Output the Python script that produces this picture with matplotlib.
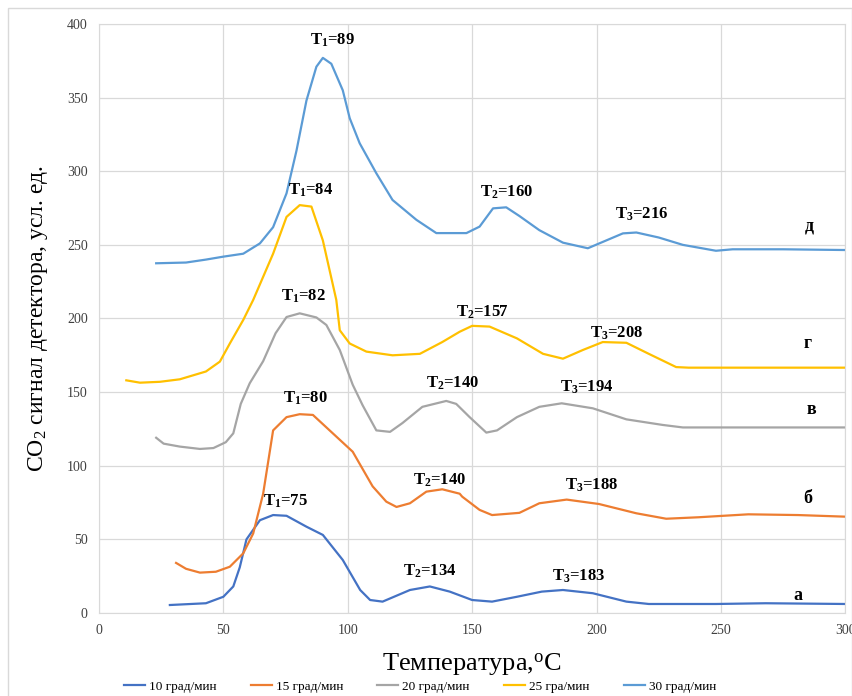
import matplotlib
matplotlib.use("Agg")
import matplotlib.pyplot as plt
from matplotlib.patches import Rectangle

plt.rcParams['font.family'] = ['Liberation Serif', 'DejaVu Serif']
plt.rcParams['mathtext.fontset'] = 'custom'
plt.rcParams['mathtext.rm'] = 'Liberation Serif'
plt.rcParams['mathtext.bf'] = 'Liberation Serif:bold'
plt.rcParams['mathtext.it'] = 'Liberation Serif:italic'

# --- данные ---
x10 = [28.5, 43, 50, 54, 56.6, 59.3, 64.7, 70, 75.4, 83.4, 90, 98, 105, 109, 114, 125, 133, 141,
       150, 158, 168, 178, 186.5, 198.5, 212, 221, 248, 268, 300]
y10 = [5.4, 6.6, 11, 18, 31, 50, 63, 66.5, 66, 58.6, 53, 36, 15.6, 8.8, 7.7, 15.6, 18, 14.5,
       8.8, 7.7, 11, 14.5, 15.6, 13.4, 7.7, 6.1, 6.1, 6.6, 6.1]

x15 = [31, 35, 40.6, 47, 52.6, 58, 62, 66, 70, 75.4, 80.7, 86, 94, 102, 110, 115.5, 119.6, 125,
       131.6, 138, 145, 146, 153, 158, 169, 177, 188, 201, 216, 228, 241, 261, 281, 300]
y15 = [34, 30, 27.4, 28, 31.4, 40.5, 54, 81, 124, 133, 135, 134.5, 122, 109.5, 86, 75.6, 72, 74.5,
       82.4, 84, 81, 79, 70, 66.5, 68, 74.5, 77, 74, 67.7, 64, 65, 67, 66.5, 65.4]

x20 = [23, 26, 32.5, 40.6, 46, 51, 54, 57, 60.6, 66, 71, 75.4, 80.7, 87.4, 91.4, 96.8, 102, 106,
       111.5, 117, 122, 130, 139.6, 143.6, 149, 155.7, 160, 168, 177, 186, 198.5, 212, 226.6,
       234.7, 261, 300]
y20 = [119, 115, 113, 111.4, 112, 116, 122, 142, 156, 171, 190, 201, 203.5, 200.7, 195.6, 178.6,
       155, 141, 124, 123, 129, 140, 144, 142, 133, 122.5, 124, 133, 140, 142.4, 139, 131.5, 127.7,
       126, 126, 126]

x25 = [11, 16.5, 24.5, 32.5, 43, 48.6, 52.6, 58, 62, 70, 75.4, 80.7, 85.4, 90, 95.4, 96.8, 100.8,
       107.5, 118, 129, 138, 145, 150, 157, 168, 178.5, 186.5, 194.5, 202.5, 212, 221, 232, 237, 300]
y25 = [158, 156.4, 157, 158.7, 164, 170.7, 183, 199, 212.6, 244, 269, 277, 276, 253, 212.6, 192, 183,
       177.5, 175, 176, 184, 191, 195, 194.5, 186.5, 176, 172.7, 178.6, 184, 183.5, 176, 167, 166.6,
       166.6]

x30 = [23, 35, 43, 50, 58, 64.7, 70, 75.4, 79.4, 83.4, 87.4, 90, 93.4, 98, 100.8, 104.8, 111.5,
       118, 127.6, 135.6, 147.7, 153, 158.4, 163.7, 169, 177, 186.5, 196.5, 202.5, 210.6, 216, 225,
       234.7, 248, 254.7, 275, 300]
y30 = [237.5, 238, 240, 242, 244, 251, 262, 285, 314, 348, 371, 377, 373, 355, 336, 319, 298.6,
       280.5, 267, 258, 258, 262.4, 274.8, 275.5, 269.6, 260, 251.5, 247.7, 252, 257.8, 258.4, 255,
       250, 246, 247, 247, 246.5]

series_labels = ['10 град/мин', '15 град/мин', '20 град/мин', '25 гра/мин', '30 град/мин']
colors = ['#4472C4', '#ED7D31', '#A5A5A5', '#FFC000', '#5B9BD5']

# подписи пиков: (текст, x, y)
peak_labels = [
    (r'T$_{\mathbf{1}}$=75', 75, 76), (r'T$_{\mathbf{2}}$=134', 133, 28), (r'T$_{\mathbf{3}}$=183', 193, 25),
    (r'T$_{\mathbf{1}}$=80', 83, 146), (r'T$_{\mathbf{2}}$=140', 137, 90), (r'T$_{\mathbf{3}}$=188', 198, 87),
    (r'T$_{\mathbf{1}}$=82', 82, 215), (r'T$_{\mathbf{2}}$=140', 142, 156), (r'T$_{\mathbf{3}}$=194', 196, 153),
    (r'T$_{\mathbf{1}}$=84', 85, 287), (r'T$_{\mathbf{2}}$=157', 154, 204), (r'T$_{\mathbf{3}}$=208', 208, 190),
    (r'T$_{\mathbf{1}}$=89', 94, 389), (r'T$_{\mathbf{2}}$=160', 164, 286), (r'T$_{\mathbf{3}}$=216', 218, 271),
]
curve_letters = [('а', 281, 12), ('б', 285, 78), ('в', 286.5, 138), ('г', 285, 183), ('д', 285.5, 263)]


def main():
    fig = plt.figure(figsize=(8.53, 6.96), dpi=100)
    ax = fig.add_axes([0.116, 0.1193, 0.875, 0.8462])

    data = [(x10, y10), (x15, y15), (x20, y20), (x25, y25), (x30, y30)]
    for (xs, ys), lab, c in zip(data, series_labels, colors):
        ax.plot(xs, ys, color=c, linewidth=1.6, label=lab)

    for txt, x, y in peak_labels:
        ax.text(x, y, txt, fontsize=12, fontweight='bold', ha='center', va='center')
    for txt, x, y in curve_letters:
        ax.text(x, y, txt, fontsize=13, fontweight='bold', ha='center', va='center')

    ax.set_xlim(0, 300)
    ax.set_ylim(0, 400)
    ax.set_xticks(range(0, 301, 50))
    ax.set_yticks(range(0, 401, 50))
    ax.grid(True, color='#D9D9D9', linewidth=0.9)
    ax.set_axisbelow(True)
    for sp in ax.spines.values():
        sp.set_color('#D9D9D9')
    ax.tick_params(length=0, labelsize=10, colors='#404040', pad=8)

    ax.set_xlabel('Температура,$^{\\rm o}$C', fontsize=19, labelpad=10)
    ax.set_ylabel('CO$_2$ сигнал детектора, усл. ед.', fontsize=17, labelpad=12)

    ax.legend(loc='upper center', bbox_to_anchor=(0.43, -0.095), ncol=5, frameon=False,
              fontsize=9.5, handlelength=1.6, handletextpad=0.3, columnspacing=2.6)

    # рамка области диаграммы
    fig.patches.append(Rectangle((0.0094, -0.01), 0.99, 0.9985, transform=fig.transFigure,
                                 fill=False, edgecolor='#D9D9D9', linewidth=1))

    plt.savefig('out.png', dpi=100)
    plt.close()


if __name__ == "__main__":
    main()
